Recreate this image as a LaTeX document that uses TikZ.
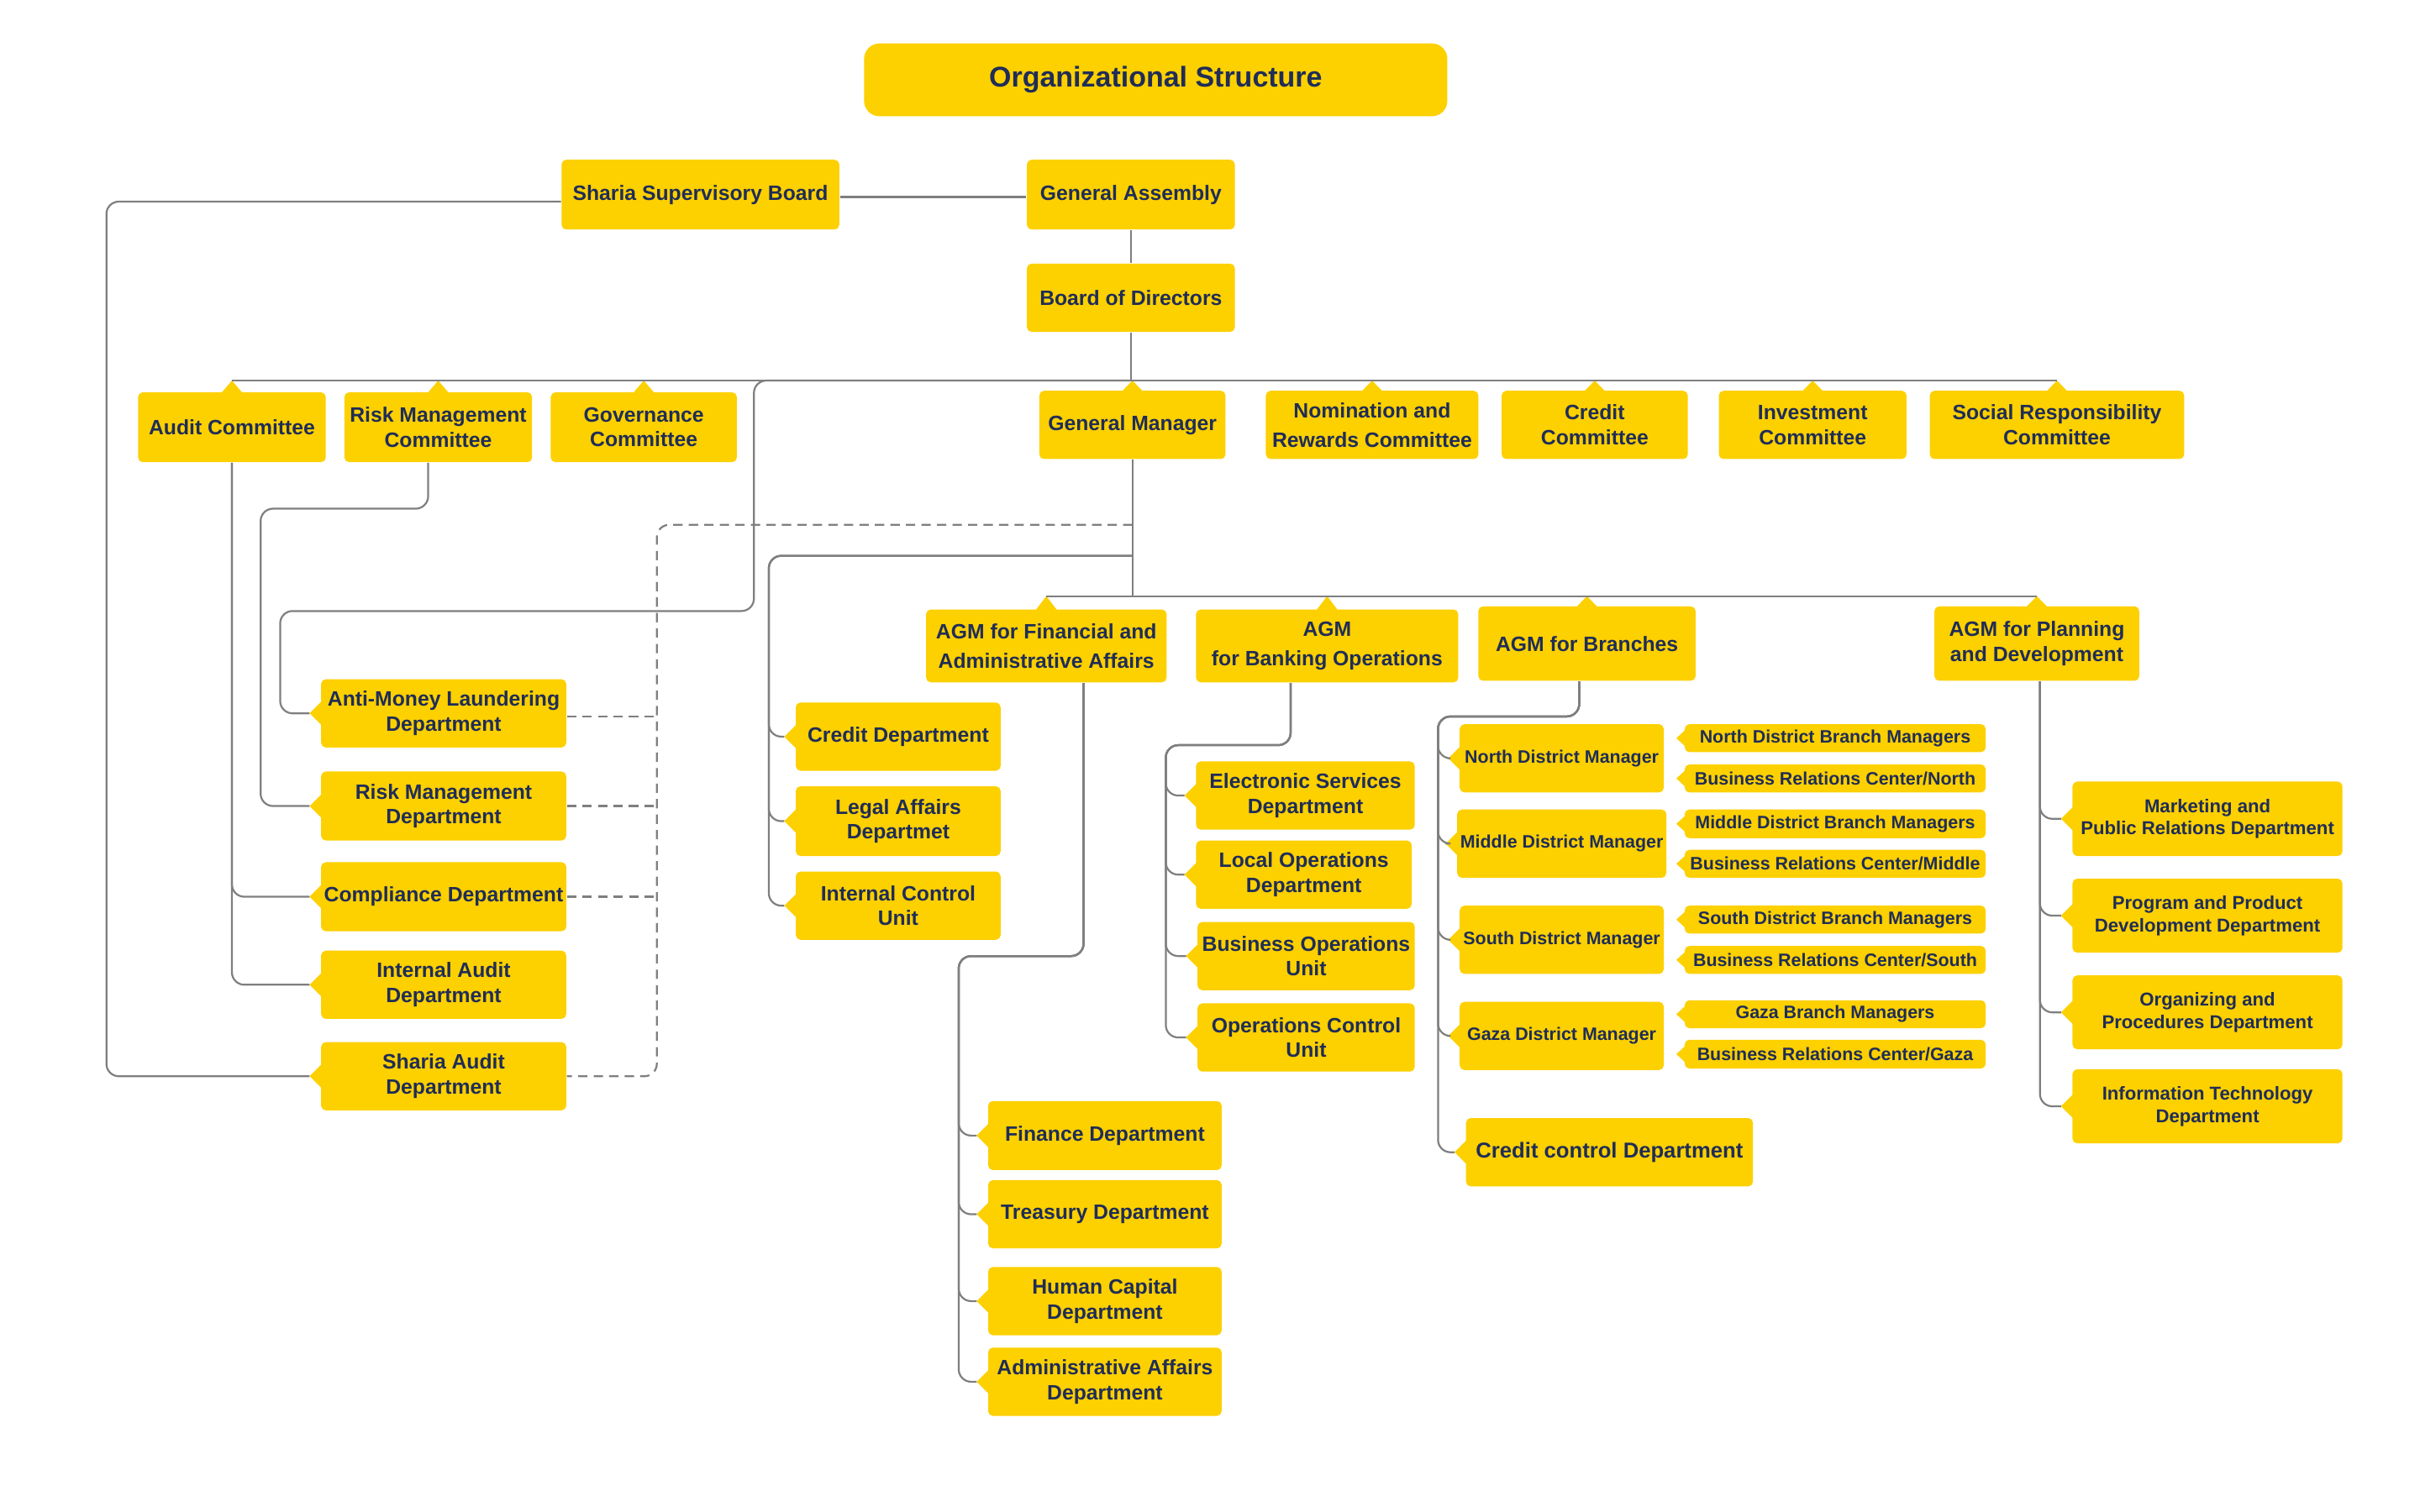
\documentclass[tikz,border=0pt]{standalone}
\usepackage{fontspec}
\setmainfont{Liberation Sans}
\usetikzlibrary{calc}
\definecolor{ybox}{HTML}{FDD000}
\definecolor{navy}{HTML}{1F2D57}
\definecolor{lgray}{HTML}{7F7F7F}
\newcommand\bx[7][]{\pgfmathsetmacro\bxw{(#5-#3)*0.5}\pgfmathsetmacro\bxh{(#6-#4)*0.5}%
  \node[box,minimum width=\bxw pt,minimum height=\bxh pt,#1] (#2) at ({(#3+#5)/2},{(#4+#6)/2}) {#7};}
\newcommand\ttab[2]{\fill[ybox] ($(#1.north)+(-7,1)$) -- (#1.north |- #2) -- ($(#1.north)+(7,1)$) -- cycle;}
\newcommand\ltab[1]{\fill[ybox] ($(#1.west)+(1,-8)$) -- ($(#1.west)+(-7,0)$) -- ($(#1.west)+(1,8)$) -- cycle;
  \coordinate (#1-t) at ($(#1.west)+(-7,0)$);}
\newcommand\stab[1]{\fill[ybox] ($(#1.west)+(1,-5.5)$) -- ($(#1.west)+(-5,0)$) -- ($(#1.west)+(1,5.5)$) -- cycle;}
\tikzset{
  box/.style={fill=ybox, rounded corners=1.5pt, align=center, inner sep=1pt, text=navy,
    font=\bfseries\fontsize{6.7}{8}\selectfont},
  widelead/.style={font=\bfseries\fontsize{6.7}{9.5}\selectfont},
  smallbox/.style={font=\bfseries\fontsize{5.8}{7}\selectfont},
  planbox/.style={font=\bfseries\fontsize{6}{7.3}\selectfont},
  conn/.style={draw=lgray, line width=0.6pt, rounded corners=4pt},
  dconn/.style={conn, dash pattern=on 3pt off 2pt},
}
\begin{document}
\begin{tikzpicture}[x=0.5pt,y=-0.5pt]
\useasboundingbox (0,0) rectangle (1560,975);
% title
\bx[rounded corners=5pt,font=\bfseries\fontsize{9.2}{11}\selectfont]{title}{557}{28}{933}{75}{Organizational Structure}
% top
\bx{sharia}{362}{103}{541}{148}{Sharia Supervisory Board}
\bx{ga}{662}{103}{796}{148}{General Assembly}
\bx{bod}{662}{170}{796}{214}{Board of Directors}
\coordinate (bus) at ($(bod.south)+(0,31)$);
% committees row
\bx{audit}{89}{253}{210}{298}{Audit Committee}
\bx{rmc}{222}{253}{343}{298}{Risk Management\\Committee}
\bx{gov}{355}{253}{475}{298}{Governance\\Committee}
\bx{gm}{670}{252}{790}{296}{General Manager}
\bx[widelead]{nom}{816}{252}{953}{296}{Nomination and\\Rewards Committee}
\bx{credc}{968}{252}{1088}{296}{Credit\\Committee}
\bx{inv}{1108}{252}{1229}{296}{Investment\\Committee}
\bx{soc}{1244}{252}{1408}{296}{Social Responsibility\\Committee}
\foreach \n in {audit,rmc,gov,gm,nom,credc,inv,soc} {\ttab{\n}{bus}}
% left departments
\bx{aml}{207}{438}{365}{482}{Anti-Money Laundering\\Department}
\bx{rmd}{207}{497.5}{365}{542}{Risk Management\\Department}
\bx{comp}{207}{556}{365}{600.5}{Compliance Department}
\bx{iaud}{207}{613}{365}{657}{Internal Audit\\Department}
\bx{shaud}{207}{672}{365}{716}{Sharia Audit\\Department}
% GM direct
\bx{cred}{513}{453}{645}{497}{Credit Department}
\bx{legal}{513}{507}{645}{552}{Legal Affairs\\Departmet}
\bx{intc}{513}{562}{645}{606}{Internal Control\\Unit}
% AGMs
\coordinate (ab) at ($(gm.south)+(0,88)$);
\bx[widelead]{agmfin}{597}{393}{752}{440}{AGM for Financial and\\Administrative Affairs}
\bx[widelead]{agmbank}{771}{393}{940}{440}{AGM\\for Banking Operations}
\bx{agmbr}{953}{391}{1093}{439}{AGM for Branches}
\bx{agmplan}{1247}{391}{1379}{439}{AGM for Planning\\and Development}
\foreach \n in {agmfin,agmbank,agmbr,agmplan} {\ttab{\n}{ab}}
% banking
\bx{es}{771}{491}{912}{535}{Electronic Services\\Department}
\bx{lo}{771}{542}{910}{586}{Local Operations\\Department}
\bx{bo}{772}{594.5}{912}{638.5}{Business Operations\\Unit}
\bx{oc}{772}{647}{912}{691}{Operations Control\\Unit}
% financial
\bx{fin}{637}{710}{787.5}{754.5}{Finance Department}
\bx{tre}{637}{761}{787.5}{805}{Treasury Department}
\bx{hc}{637}{817}{787.5}{861}{Human Capital\\Department}
\bx{adm}{637}{869}{787.5}{913}{Administrative Affairs\\Department}
% branches
\bx[smallbox]{ndm}{941}{467}{1072.5}{511}{North District Manager}
\bx[smallbox]{mdm}{941}{522}{1072.5}{566}{Middle District Manager}
\bx[smallbox]{sdm}{941}{584}{1072.5}{628}{South District Manager}
\bx[smallbox]{gdm}{941}{646}{1072.5}{690}{Gaza District Manager}
\bx[font=\bfseries\fontsize{6.95}{8}\selectfont]{ccd}{945}{721}{1130}{765}{Credit control Department}
\bx[smallbox]{ndb}{1086}{467}{1280}{485}{North District Branch Managers}
\bx[smallbox]{brn}{1086}{493}{1280}{511}{Business Relations Center/North}
\bx[smallbox]{mdb}{1086}{522}{1280}{540.5}{Middle District Branch Managers}
\bx[smallbox]{brm}{1086}{548}{1280}{566}{Business Relations Center/Middle}
\bx[smallbox]{sdb}{1086}{584}{1280}{602}{South District Branch Managers}
\bx[smallbox]{brs}{1086}{610}{1280}{628}{Business Relations Center/South}
\bx[smallbox]{gbm}{1086}{645}{1280}{663}{Gaza Branch Managers}
\bx[smallbox]{brg}{1086}{670.5}{1280}{689}{Business Relations Center/Gaza}
\foreach \n in {ndb,brn,mdb,brm,sdb,brs,gbm,brg} {\stab{\n}}
% planning
\bx[planbox]{mk}{1336}{504}{1510}{552}{Marketing and\\Public Relations Department}
\bx[planbox]{prg}{1336}{566.6}{1510}{614.3}{Program and Product\\Development Department}
\bx[planbox]{org}{1336}{629}{1510}{676.6}{Organizing and\\Procedures Department}
\bx[planbox]{it}{1336}{689.5}{1510}{737.3}{Information Technology\\Department}
% left tabs
\foreach \n in {aml,rmd,comp,iaud,shaud,cred,legal,intc,es,lo,bo,oc,fin,tre,hc,adm,ndm,mdm,sdm,gdm,ccd,mk,prg,org,it} {\ltab{\n}}
% ---------- connectors ----------
\draw[conn] ([yshift=-0.75pt]sharia.east) -- ([yshift=-0.75pt]ga.west);
\draw[conn] (ga.south) -- (bod.north);
\draw[conn] (bod.south) -- (bus);
\draw[conn] (audit.north |- bus) -- (soc.north |- bus);
% sharia outer
\draw[conn] ([yshift=-2.25pt]sharia.west) -| ($(shaud-t)+(-131,0)$) -- (shaud-t);
% audit committee
\draw[conn] (audit.south) |- (comp-t);
\draw[conn] (audit.south) |- (iaud-t);
% risk committee
\coordinate (rj) at (168,328);
\draw[conn] ([xshift=-3.25pt]rmc.south) |- (rj) |- (rmd-t);
% board to AML
\coordinate (bj) at (486,394);
\draw[conn] (bus) -| (bj) -| ($(aml-t)+(-19,0)$) -- (aml-t);
% dashed
\coordinate (dj) at ($(gm.south)+(0,42)$);
\draw[dconn] (dj) -| ($(shaud.east)+(58,0)$) -- (shaud.east);
\draw[dconn] ([yshift=-1pt]aml.east) -- +(58,0);
\draw[dconn] (rmd.east) -- +(58,0);
\draw[dconn] (comp.east) -- +(58,0);
% GM
\draw[conn] (gm.south) -- (ab);
\draw[conn] (agmfin.north |- ab) -- (agmplan.north |- ab);
\coordinate (gl) at ($(gm.south)+(0,62)$);
\foreach \n in {cred,legal,intc} {\draw[conn] (gl) -| ($(\n-t)+(-10,0)$) -- (\n-t);}
% financial
\coordinate (fj) at (618,616.5);
\foreach \n in {fin,tre,hc,adm} {\draw[conn] ([xshift=12pt]agmfin.south) |- (fj) |- (\n-t);}
% banking
\coordinate (kj) at (751.5,480.5);
\foreach \n in {es,lo,bo,oc} {\draw[conn] ([xshift=-11.75pt]agmbank.south) |- (kj) |- (\n-t);}
% branches
\coordinate (rj2) at (927,462);
\foreach \n in {ndm,mdm,sdm,gdm,ccd} {\draw[conn] ([xshift=-2.5pt]agmbr.south) |- (rj2) |- (\n-t);}
% planning
\foreach \n in {mk,prg,org,it} {\draw[conn] ([xshift=1pt]agmplan.south) |- (\n-t);}
\end{tikzpicture}
\end{document}
